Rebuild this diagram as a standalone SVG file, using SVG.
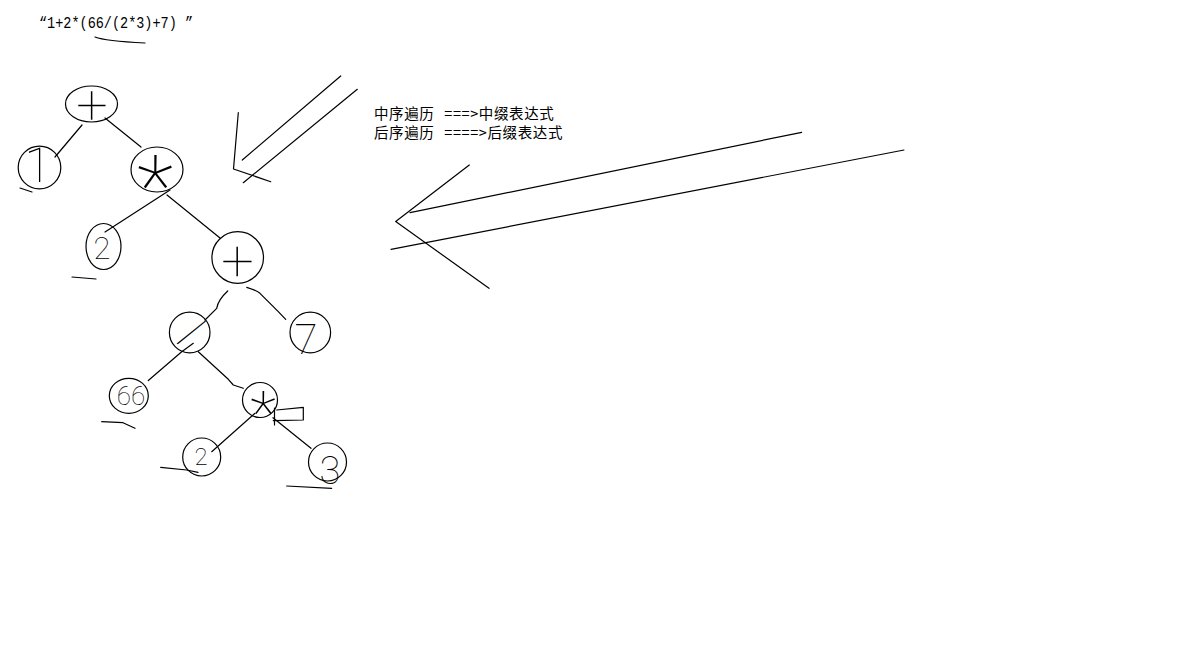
<svg xmlns="http://www.w3.org/2000/svg" width="1183" height="649" viewBox="0 0 1183 649">
<style>
.ln{fill:none;stroke:#000;stroke-width:1.2;stroke-linecap:round;stroke-linejoin:round}
.nd{fill:none;stroke:#000;stroke-width:1.2}
.lbl{font-family:Roboto,"DejaVu Sans",sans-serif;font-weight:100;fill:#000;text-anchor:middle}
.txt{font-family:"Liberation Mono",monospace;font-size:16px;fill:#000}
.cjk{font-family:"Noto Sans CJK SC","Noto Sans CJK JP",sans-serif;font-size:14.5px;fill:#000;word-spacing:6px;letter-spacing:0.6px}
</style>
<rect width="1183" height="649" fill="#fff"/>
<text class="txt" x="39" y="28" textLength="154" lengthAdjust="spacingAndGlyphs">“1+2*(66/(2*3)+7) ”</text>
<path class="ln" d="M95,37 Q105,41 145,43"/>
<text class="cjk" x="374" y="119">中序遍历 ===&gt;中缀表达式</text>
<text class="cjk" x="374" y="138">后序遍历 ====&gt;后缀表达式</text>
<g id="arrows">
<path class="ln" d="M238.3,112.7 L233.5,169 L270.7,181.7"/>
<path class="ln" d="M340.7,76 L242.3,160"/>
<path class="ln" d="M357.3,89.3 L243.3,182.7"/>
<path class="ln" d="M469.3,165 L395.7,221.5 L489,288.3"/>
<path class="ln" d="M410,212.7 L801.7,132.3"/>
<path class="ln" d="M391,249.3 L904,150"/>
</g>
<g id="connectors">
<path class="ln" d="M82,125 L55,157"/>
<path class="ln" d="M105,118 L141,147"/>
<path class="ln" d="M170,190 L105,232"/>
<path class="ln" d="M167,195 L220,238"/>
<path class="ln" d="M227.7,291 Q218,300 216.7,308.3 L205,320"/>
<path class="ln" d="M246.7,287.3 Q256,290 260,293.3 L278.3,311.7 L285.7,319.3"/>
<path class="ln" d="M193.3,343.3 L181.7,351.7 L148.3,380.5"/>
<path class="ln" d="M198.3,351.7 L228.3,379.3 L233.3,385 L243.3,388.3"/>
<path class="ln" d="M255,413.3 L211.7,451.7"/>
<path class="ln" d="M273,417.7 L311,448.3"/>
</g>
<g id="n-root">
<ellipse class="nd" cx="91.5" cy="104" rx="26" ry="18"/>
<text class="lbl" x="92" y="124" font-size="56">+</text>
</g>
<g id="n-1">
<circle class="nd" cx="39.5" cy="167.5" r="21.3"/>
<text class="lbl" x="38" y="182" font-size="49">1</text>
<path class="ln" d="M20,188 L32,192"/>
</g>
<g id="n-mul">
<ellipse class="nd" cx="157" cy="169.5" rx="26" ry="22.5"/>
<text class="lbl" x="155" y="216" font-size="85">*</text>
</g>
<g id="n-2a">
<ellipse class="nd" cx="103.5" cy="246.5" rx="17.5" ry="23"/>
<text class="lbl" x="102" y="259" font-size="31">2</text>
<path class="ln" d="M72,277 L96,279"/>
</g>
<g id="n-plus">
<circle class="nd" cx="237.7" cy="257.5" r="25.8"/>
<text class="lbl" x="237.5" y="281" font-size="58">+</text>
</g>
<g id="n-div">
<circle class="nd" cx="189.7" cy="332.5" r="20.3"/>
<text class="lbl" x="192" y="347" font-size="44" transform="rotate(30 192 332)">/</text>
</g>
<g id="n-7">
<circle class="nd" cx="310.3" cy="332.5" r="20.3"/>
<text class="lbl" x="306" y="354" font-size="42">7</text>
</g>
<g id="n-66">
<ellipse class="nd" cx="128.8" cy="395.8" rx="19.5" ry="17.5"/>
<text class="lbl" x="131" y="405" font-size="26">66</text>
<path class="ln" d="M101.7,421.7 L123,422.7 L135,428.3"/>
</g>
<g id="n-mul2">
<circle class="nd" cx="260" cy="400" r="17.5"/>
<text class="lbl" x="263" y="433" font-size="60">*</text>
<path class="ln" d="M276.7,410 L303.3,407.3 L303.3,420 L273.3,420.7 M274.5,408 L274.5,425"/>
</g>
<g id="n-2b">
<circle class="nd" cx="201.7" cy="457" r="19"/>
<text class="lbl" x="201" y="465" font-size="24">2</text>
<path class="ln" d="M160.7,467.3 L186.7,470 L198,472.3"/>
</g>
<g id="n-3">
<circle class="nd" cx="327.5" cy="462" r="19"/>
<text class="lbl" x="330" y="484" font-size="38">3</text>
<path class="ln" d="M286.7,486 L331.7,488.3"/>
</g>
</svg>
